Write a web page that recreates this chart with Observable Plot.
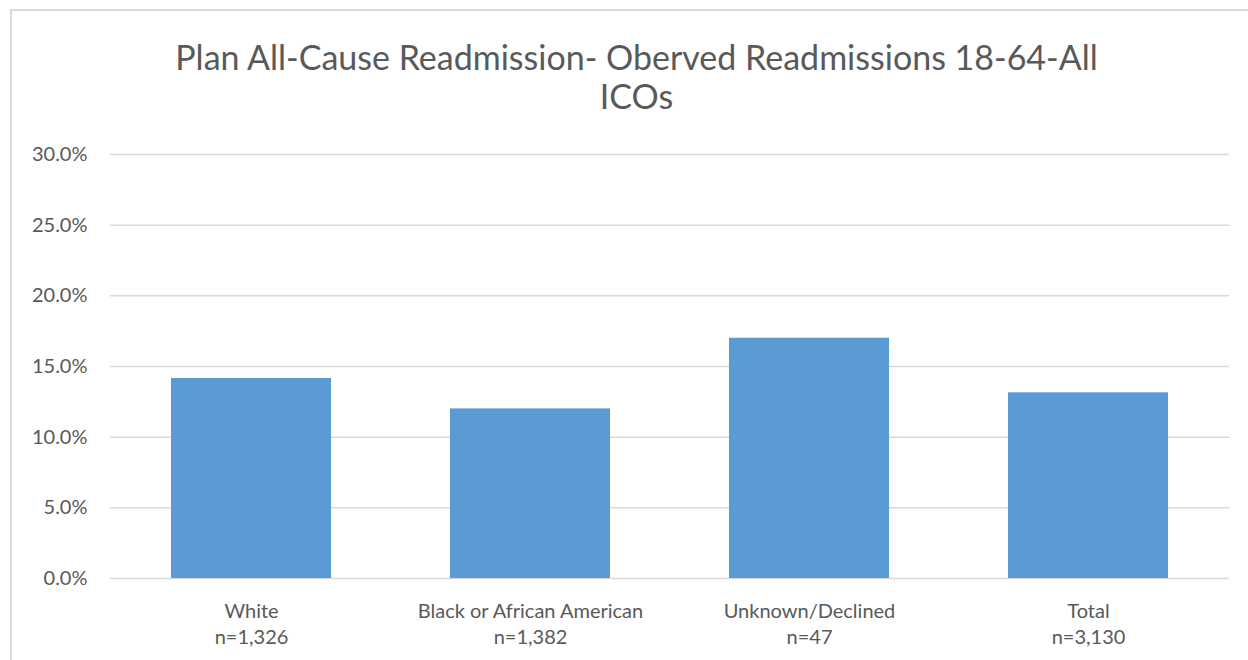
<!DOCTYPE html>
<html>
<head>
<meta charset="utf-8">
<script src="https://cdn.jsdelivr.net/npm/d3@7"></script>
<script src="https://cdn.jsdelivr.net/npm/@observablehq/plot@0.6"></script>
<style>
  html, body { margin: 0; padding: 0; background: #fff; overflow: hidden; }
  body { width: 1248px; height: 660px; position: relative; font-family: Lato, "Open Sans", sans-serif; }
  #frame {
    position: absolute; left: 10px; top: 9px; width: 1251px; height: 700px;
    border-top: 2px solid #d9d9d9; border-left: 2px solid #d9d9d9; box-sizing: border-box;
  }
  #title {
    position: absolute; left: 11px; width: 1251px; top: 37px;
    text-align: center; color: #595959; font-size: 34px; line-height: 39px;
  }
  #chart { position: absolute; left: 0; top: 120px; }
</style>
</head>
<body>
<div id="frame"></div>
<div id="title">Plan All-Cause Readmission- Oberved Readmissions 18-64-All<br>ICOs</div>
<div id="chart"></div>
<script>
// Observed readmission rate by race, members aged 18-64, all ICOs
const categories = ["White", "Black or African American", "Unknown/Declined", "Total"];
const counts = ["n=1,326", "n=1,382", "n=47", "n=3,130"];
const rates = [0.1415, 0.120, 0.170, 0.1314];
const yTicks = [0, 0.05, 0.10, 0.15, 0.20, 0.25, 0.30];

const rows = categories.map((c, i) => ({category: c, n: counts[i], rate: rates[i]}));
const labelOf = new Map(rows.map(d => [d.category, `${d.category}\n${d.n}`]));

const chart = Plot.plot({
  width: 1248,
  height: 540,
  marginTop: 34,
  marginBottom: 82,
  marginLeft: 110,
  marginRight: 19,
  style: {fontFamily: "Lato, 'Open Sans', sans-serif", color: "#595959", background: "transparent"},
  x: {domain: categories, paddingInner: 0.428, paddingOuter: 0.214},
  y: {domain: [0, 0.30]},
  marks: [
    Plot.gridY(yTicks, {stroke: "#d9d9d9", strokeOpacity: 1, strokeWidth: 1.5}),
    Plot.barY(rows, {x: "category", y: "rate", fill: "#5b9bd5"}),
    Plot.axisY(yTicks, {
      tickSize: 0, tickPadding: 23, tickFormat: d3.format(".1%"),
      fontSize: 20, fill: "#595959", label: null
    }),
    Plot.axisX({
      tickSize: 0, tickPadding: 21, tickFormat: d => labelOf.get(d),
      fontSize: 20, lineHeight: 1.3, fill: "#595959", label: null
    })
  ]
});
document.getElementById("chart").appendChild(chart);
</script>
</body>
</html>
